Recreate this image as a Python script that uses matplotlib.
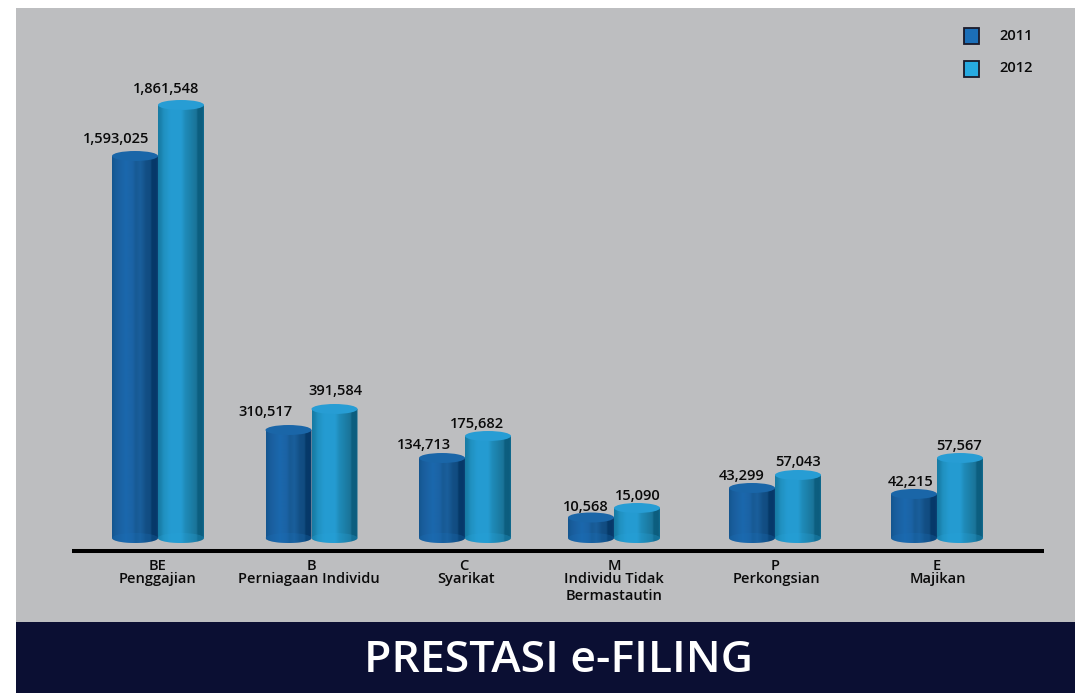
import numpy as np
import matplotlib
matplotlib.use("Agg")
import matplotlib.pyplot as plt
from matplotlib.colors import LinearSegmentedColormap
from matplotlib.patches import Ellipse, Polygon, Rectangle

# ---- data ----
codes = ["BE", "B", "C", "M", "P", "E"]
names = ["Penggajian", "Perniagaan Individu", "Syarikat", "Individu Tidak\nBermastautin", "Perkongsian", "Majikan"]
series = ["2011", "2012"]
values_2011 = [1593025, 310517, 134713, 10568, 43299, 42215]
values_2012 = [1861548, 391584, 175682, 15090, 57043, 57567]
# The source graphic is not to scale: bar heights as actually drawn, on the 2012 BE scale
drawn_2011 = [1642300, 464300, 343900, 88100, 215000, 189200]
drawn_2012 = [1861548, 554600, 438500, 129000, 270800, 343900]
title = "PRESTASI e-FILING"

# ---- layout (pixels of the 1075x693 picture) ----
W, H = 1075, 693
BASE_PX = 538
UNITS_PER_PX = 4299.2
group_x = [158, 311.5, 465, 614, 775, 937]
bar_w = 46
label_x_2011 = [116, 265, 424, 586, 742, 911]
label_x_2012 = [166, 335, 477, 638, 798, 959]
label_gap_2011 = [17, 18, 13, 11, 12, 12]
label_gap_2012 = [16, 18, 12, 12, 13, 12]
code_x = [158, 311, 464, 614, 775, 937]
name_x = [158, 309, 466, 614, 776, 938]

PANEL = "#bdbec0"
BANNER = "#0b0f33"
FONT = ["Open Sans", "DejaVu Sans"]
TXT = 10.5

cmap_2011 = LinearSegmentedColormap.from_list("c11", [
    (0.00, "#14558e"), (0.06, "#175c99"), (0.12, "#1a5f9f"), (0.30, "#1b68ad"), (0.45, "#1b63a5"),
    (0.52, "#175a94"), (0.62, "#1a5f9c"), (0.74, "#134f85"), (0.84, "#114c80"), (0.87, "#073a69"),
    (0.97, "#06386a"), (1.00, "#0c4474")])
cmap_2012 = LinearSegmentedColormap.from_list("c12", [
    (0.00, "#177ba3"), (0.06, "#1a82ad"), (0.12, "#2090bf"), (0.26, "#249bd1"), (0.50, "#259cd2"),
    (0.60, "#1f8ab8"), (0.72, "#1c7fa8"), (0.84, "#1a7398"), (0.87, "#0d5f80"), (0.97, "#0c5d7e"),
    (1.00, "#126c90")])
top_2011 = "#1a66a8"
top_2012 = "#279dd4"
bot_2011 = "#1a70b8"
bot_2012 = "#27a3da"
swatch_2011 = "#1c6fb8"
swatch_2012 = "#27aae1"

fig = plt.figure(figsize=(W / 100, H / 100), dpi=100, facecolor="white")
ax = fig.add_axes([0, 0, 1, 1])
ax.set_xlim(0, W)
ax.set_ylim((BASE_PX - H) * UNITS_PER_PX, BASE_PX * UNITS_PER_PX)
ax.axis("off")


def y_of(px):
    return (BASE_PX - px) * UNITS_PER_PX


ELL_H = 10 * UNITS_PER_PX
grad = np.linspace(0, 1, 184).reshape(1, -1)

# backgrounds
ax.add_patch(Rectangle((16, y_of(622)), W - 16, 614 * UNITS_PER_PX, fc=PANEL, ec="none", zorder=0))
ax.add_patch(Rectangle((16, y_of(693)), W - 16, 71 * UNITS_PER_PX, fc=BANNER, ec="none", zorder=0))
ax.plot([72, 1044], [y_of(551)] * 2, color="black", lw=2.9, solid_capstyle="butt", zorder=1)


def cylinder(left, height, cmap, top_c, bot_c, z):
    right = left + bar_w
    cx = left + bar_w / 2
    t = np.linspace(0, np.pi, 60)
    arc = np.column_stack([cx + bar_w / 2 * np.cos(t), -ELL_H / 2 * np.sin(t)])
    poly = np.vstack([[[left, height]], [[right, height]], arc])
    body = Polygon(poly, closed=True, fc="none", ec="none", transform=ax.transData, zorder=z)
    ax.add_patch(body)
    im = ax.imshow(grad, cmap=cmap, aspect="auto", interpolation="bilinear",
                   extent=(left, right, -ELL_H, height), zorder=z)
    im.set_clip_path(body)
    ax.add_patch(Ellipse((cx, 0), bar_w, ELL_H, fc=bot_c, ec="none", alpha=0.28, zorder=z + 0.1))
    ax.add_patch(Ellipse((cx, height), bar_w, ELL_H, fc=top_c, ec="none", zorder=z + 0.2))


text_kw = dict(family=FONT, fontweight=600, color="#0a0a0a", ha="center", va="center", zorder=10)

for i in range(len(codes)):
    gx = group_x[i]
    cylinder(gx - bar_w, drawn_2011[i], cmap_2011, top_2011, bot_2011, 3)
    cylinder(gx, drawn_2012[i], cmap_2012, top_2012, bot_2012, 4)
    ax.text(label_x_2011[i], drawn_2011[i] + label_gap_2011[i] * UNITS_PER_PX,
            f"{values_2011[i]:,}", fontsize=TXT, **text_kw)
    ax.text(label_x_2012[i], drawn_2012[i] + label_gap_2012[i] * UNITS_PER_PX,
            f"{values_2012[i]:,}", fontsize=TXT, **text_kw)
    ax.text(code_x[i], y_of(566), codes[i], fontsize=TXT, **text_kw)
    lines = names[i].split("\n")
    ax.text(name_x[i], y_of(579), lines[0], fontsize=TXT, **text_kw)
    if len(lines) > 1:
        ax.text(name_x[i], y_of(596), lines[1], fontsize=TXT, **text_kw)

# legend
for s, c, py in zip(series, [swatch_2011, swatch_2012], [36, 68.5]):
    ax.add_patch(Rectangle((963.5, y_of(py + 8)), 15, 16 * UNITS_PER_PX, fc=c, ec="#1a1a2a", lw=1.3, zorder=5))
    ax.text(1016, y_of(py), s, fontsize=TXT, **text_kw)

ax.text(558, y_of(660), title, fontsize=32, family=FONT, fontweight=600, color="white",
        ha="center", va="center", zorder=10)

fig.savefig("out.png", dpi=100, facecolor="white")
